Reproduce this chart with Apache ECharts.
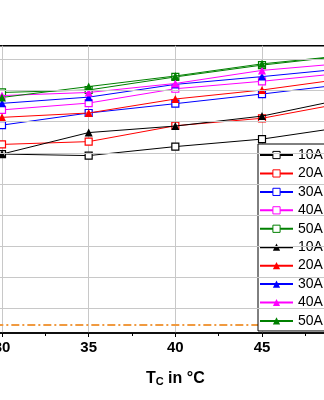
<!DOCTYPE html>
<html>
<head>
<meta charset="utf-8">
<script src="https://cdn.jsdelivr.net/npm/echarts@6/dist/echarts.min.js"></script>
<style>
html,body{margin:0;padding:0;background:#fff;overflow:hidden;width:324px;height:400px;}
#chart{position:absolute;left:-100px;top:0;width:560px;height:400px;}
</style>
</head>
<body>
<div id="chart"></div>
<script>
// x categories (case temperature, °C)
const tempC = [30, 35, 40, 45, 50];
// open-square series
const sq10A = [4.96, 4.91, 5.20, 5.44, 5.85];
const sq20A = [5.27, 5.36, 5.87, 6.11, 6.63];
const sq30A = [5.89, 6.28, 6.58, 6.89, 7.22];
const sq40A = [6.38, 6.60, 7.06, 7.30, 7.58];
const sq50A = [6.94, 7.02, 7.44, 7.82, 8.13];
// filled-triangle series
const tri10A = [4.96, 5.65, 5.86, 6.18, 6.76];
const tri20A = [6.14, 6.28, 6.73, 7.02, 7.40];
const tri30A = [6.59, 6.79, 7.20, 7.45, 7.72];
const tri40A = [6.84, 6.94, 7.23, 7.65, 7.89];
const tri50A = [6.78, 7.13, 7.47, 7.86, 8.14];
// reference (dash-dot) level
const refLevel = -0.54;
const refX = [25, 55];
// horizontal grid levels
const gridLevels = [0, 1, 2, 3, 4, 5, 6, 7, 8];
const currents = ['10A', '20A', '30A', '40A', '50A'];
const colors = ['#000000', '#ff0000', '#0000ff', '#ff00ff', '#008000'];

const FONT = '"Liberation Sans", Arial, sans-serif';
const sqData = [sq10A, sq20A, sq30A, sq40A, sq50A];
const triData = [tri10A, tri20A, tri30A, tri40A, tri50A];
const pair = arr => tempC.map((x, i) => [x, arr[i]]);

const series = [];
const legendData = [];
series.push({
  name: 'grid', type: 'line', data: [], silent: true, animation: false, z: 1,
  markLine: {
    silent: true, symbol: 'none', animation: false,
    label: { show: false },
    lineStyle: { color: '#c8c8c8', width: 1, type: 'solid' },
    emphasis: { disabled: true },
    data: gridLevels.map(v => ({ yAxis: v }))
  }
});
series.push({
  name: 'ref', type: 'line', data: refX.map(x => [x, refLevel]), symbol: 'none',
  lineStyle: { color: '#f09a40', width: 2, type: [8, 3, 2, 3] },
  silent: true, animation: false, z: 2
});
sqData.forEach((d, i) => {
  const name = currents[i];
  legendData.push({ name, itemStyle: { borderWidth: 1 } });
  series.push({
    name, type: 'line', data: pair(d), symbol: 'rect', symbolSize: 7,
    lineStyle: { color: colors[i], width: 1 },
    itemStyle: { color: '#ffffff', borderColor: colors[i], borderWidth: 1.2 },
    emphasis: { disabled: true }, animation: false, z: 3
  });
});
triData.forEach((d, i) => {
  const name = currents[i] + '\u00a0';
  legendData.push({ name });
  series.push({
    name, type: 'line', data: pair(d), symbol: 'triangle', symbolSize: 8,
    lineStyle: { color: colors[i], width: 1 },
    itemStyle: { color: colors[i] },
    emphasis: { disabled: true }, animation: false, z: 4
  });
});

const chart = echarts.init(document.getElementById('chart'), null, { renderer: 'canvas' });
chart.setOption({
  backgroundColor: '#ffffff',
  animation: false,
  grid: {
    left: 15.33, right: 24.67, top: 45.7, bottom: 67,
    show: true, borderColor: '#000', borderWidth: 1.5, backgroundColor: '#fff'
  },
  xAxis: {
    type: 'value', min: 25, max: 55, interval: 5,
    axisLine: { onZero: false, lineStyle: { color: '#000', width: 1.5 } },
    axisTick: { show: true, inside: false, length: 4, lineStyle: { color: '#000', width: 1 } },
    minorTick: { show: true, splitNumber: 2, length: 3, lineStyle: { color: '#000', width: 1 } },
    axisLabel: { margin: 7, fontSize: 15, fontWeight: 'bold', color: '#000', fontFamily: FONT },
    splitLine: { show: true, lineStyle: { color: '#c8c8c8', width: 1 } },
    name: '{t|T}{s|C}{t| in °C}',
    nameLocation: 'middle', nameGap: 34,
    nameTextStyle: {
      rich: {
        t: { fontSize: 16, fontWeight: 'bold', color: '#000', fontFamily: FONT, lineHeight: 20, verticalAlign: 'bottom' },
        s: { fontSize: 11, fontWeight: 'bold', color: '#000', fontFamily: FONT, lineHeight: 12, verticalAlign: 'bottom' }
      }
    }
  },
  yAxis: {
    type: 'value', min: -0.794, max: 8.444,
    axisLine: { show: false }, axisTick: { show: false }, axisLabel: { show: false },
    splitLine: { show: false }
  },
  legend: {
    data: legendData,
    orient: 'vertical', left: 358, top: 144,
    itemWidth: 33, itemHeight: 9, itemGap: 0.44,
    padding: [2, 12, 1, 1],
    borderColor: '#000', borderWidth: 1, backgroundColor: '#fff',
    selectedMode: false,
    textStyle: { fontSize: 14, color: '#000', fontFamily: FONT, lineHeight: 18 }
  },
  series
});
</script>
</body>
</html>
